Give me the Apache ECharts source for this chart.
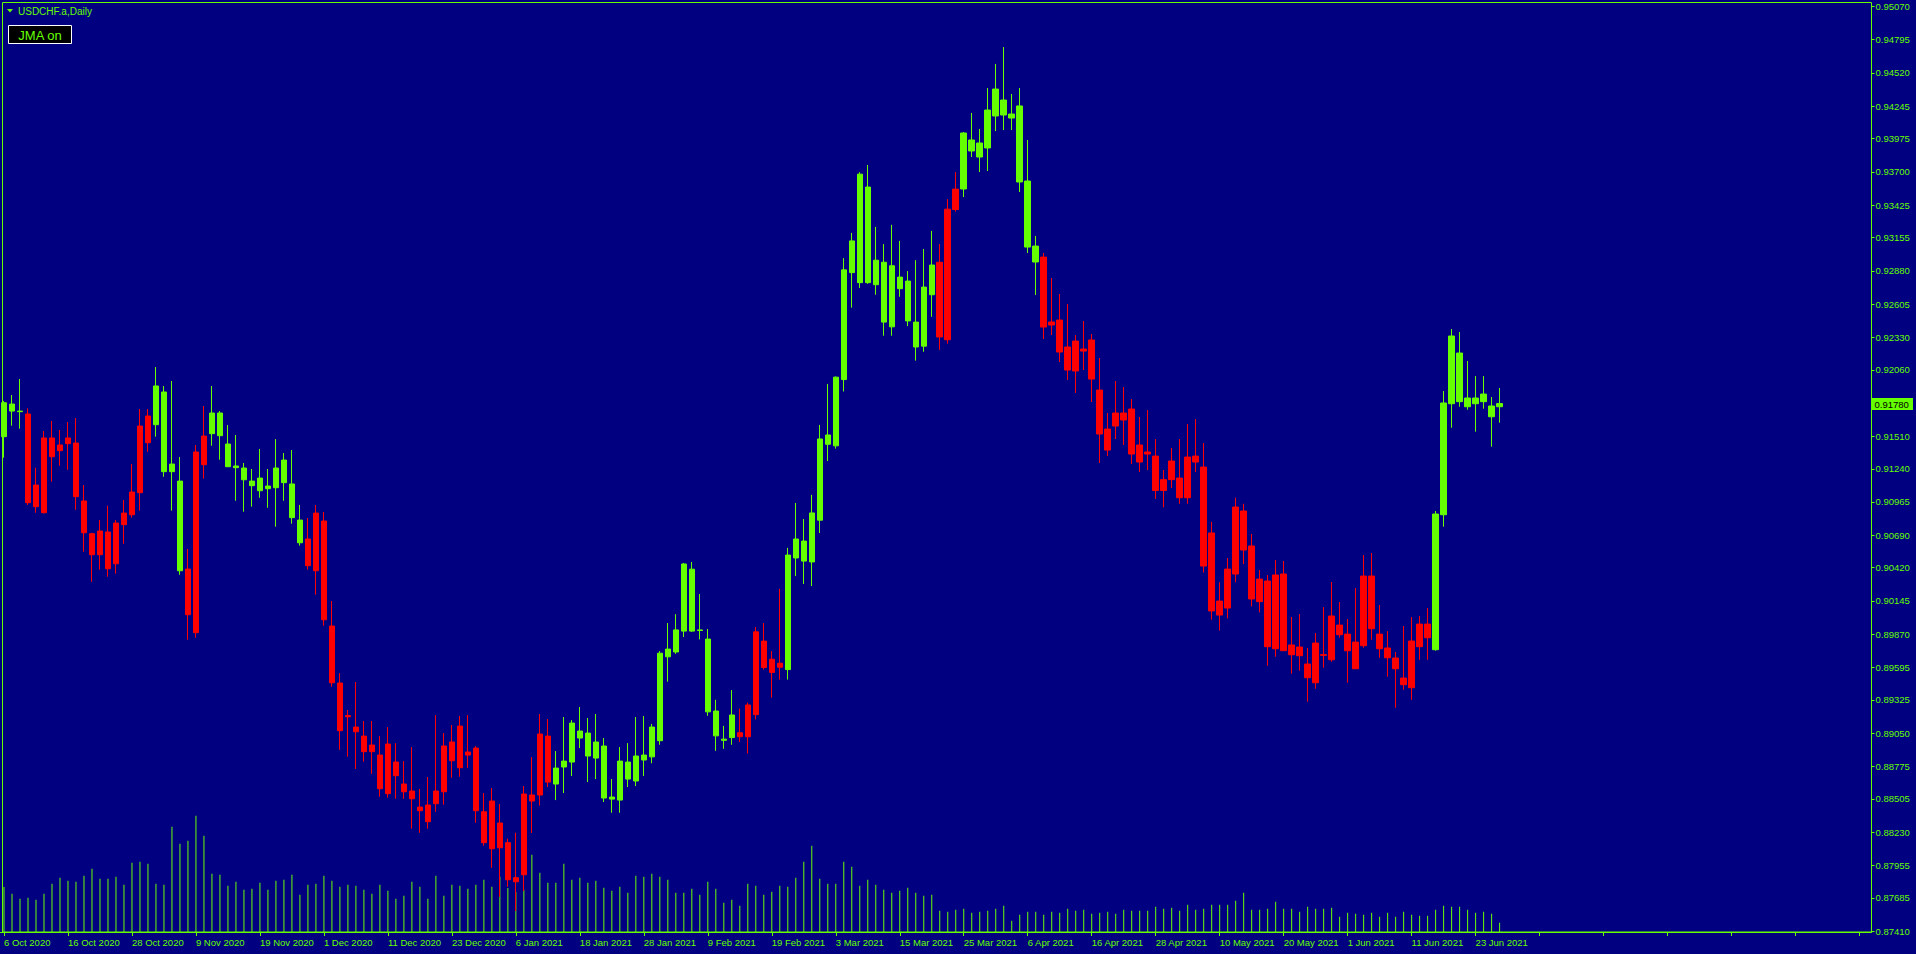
<!DOCTYPE html>
<html><head><meta charset="utf-8">
<script src="https://cdn.jsdelivr.net/npm/echarts@6/dist/echarts.min.js"></script>
<style>html,body{margin:0;padding:0;background:#000080;overflow:hidden}#c{width:1916px;height:954px}</style>
</head><body><div id="c"></div>
<script>
const symbolTitle = 'USDCHF.a,Daily';
const buttonText = 'JMA on';
const monthDays = [
  ['Oct 2020',[6,7,8,9,12,13,14,15,16,19,20,21,22,23,26,27,28,29,30]],
  ['Nov 2020',[2,3,4,5,6,9,10,11,12,13,16,17,18,19,20,23,24,25,26,27,30]],
  ['Dec 2020',[1,2,3,4,7,8,9,10,11,14,15,16,17,18,21,22,23,24,28,29,30,31]],
  ['Jan 2021',[4,5,6,7,8,11,12,13,14,15,18,19,20,21,22,25,26,27,28,29]],
  ['Feb 2021',[1,2,3,4,5,8,9,10,11,12,15,16,17,18,19,22,23,24,25,26]],
  ['Mar 2021',[1,2,3,4,5,8,9,10,11,12,15,16,17,18,19,22,23,24,25,26,29,30,31]],
  ['Apr 2021',[1,2,5,6,7,8,9,12,13,14,15,16,19,20,21,22,23,26,27,28,29,30]],
  ['May 2021',[3,4,5,6,7,10,11,12,13,14,17,18,19,20,21,24,25,26,27,28,31]],
  ['Jun 2021',[1,2,3,4,7,8,9,10,11,14,15,16,17,18,21,22,23,24,25,28]]
];
const open = [
.91506,.91776,.91718,.91694,.90926,.90876,.91495,.91390,.91448,.91453,
.90973,.90702,.90528,.90716,.90453,.90777,.90859,.91042,.91677,.91605,
.91876,.91216,.91138,.90409,.89882,.91274,.91531,.91702,.91445,.91263,
.91246,.91138,.91058,.91097,.91083,.91312,.91114,.90815,.90658,.90395,
.90807,.89937,.89465,.89195,.89100,.89025,.88896,.88868,.88548,.88810,
.88628,.88570,.88437,.88316,.88465,.88564,.88976,.88763,.88893,.88926,
.88398,.88092,.88305,.88142,.87852,.87876,.88537,.88537,.89025,.88628,
.88769,.88810,.89067,.89050,.88843,.88943,.88520,.88495,.88810,.88653,
.88827,.88853,.88987,.89682,.89722,.89895,.90408,.89900,.89829,.89233,
.89000,.89013,.89053,.89020,.89203,.89812,.89553,.89629,.89576,.90501,
.90641,.90468,.90814,.91520,.91430,.91979,.92865,.92782,.93574,.92765,
.92951,.92416,.92828,.92795,.92455,.92256,.92682,.92951,.92309,.93388,
.93558,.93964,.93823,.93898,.94163,.94295,.94179,.94246,.93624,.93085,
.92994,.92431,.92472,.92249,.92050,.92232,.92307,.91892,.91569,.91594,
.91702,.91735,.91296,.91379,.91345,.91060,.91150,.91163,.91000,.91345,
.91254,.90708,.90144,.90086,.90368,.90890,.90600,.90139,.90310,.89749,
.90368,.89699,.89763,.89622,.89467,.89700,.89658,.89945,.89870,.89804,
.89774,.90351,.89870,.89755,.89672,.89506,.89426,.89766,.89953,.89741,
.90859,.91779,.92199,.91826,.91779,.91796,.91760,.91754];
const high = [
.91801,.91851,.91984,.91741,.91249,.91553,.91636,.91561,.91627,.91660,
.91105,.90710,.90815,.90934,.90815,.90981,.91279,.91735,.91735,.92083,
.91926,.91967,.91337,.90575,.91437,.91760,.91926,.91718,.91602,.91520,
.91288,.91238,.91404,.91238,.91486,.91370,.91395,.90940,.90832,.90940,
.90882,.90144,.89547,.89241,.89473,.89150,.89150,.89025,.89100,.88967,
.88818,.88934,.88587,.88686,.89199,.89050,.89117,.89192,.89199,.88943,
.88553,.88595,.88462,.88175,.88225,.88611,.88851,.89208,.89167,.88901,
.89183,.89158,.89266,.89175,.89208,.89009,.88669,.88934,.88967,.89183,
.89191,.89126,.89729,.89962,.90035,.90460,.90468,.90202,.89912,.89326,
.89110,.89406,.89253,.89303,.89929,.89962,.89729,.90245,.90585,.90957,
.90824,.91024,.91603,.91943,.92005,.92985,.93194,.93697,.93757,.93244,
.93101,.93261,.93128,.92878,.92968,.93061,.93211,.93101,.93474,.93697,
.94030,.94188,.94055,.94395,.94594,.94734,.94345,.94395,.93964,.93168,
.93028,.92820,.92688,.92605,.92348,.92464,.92356,.92158,.91702,.91967,
.91917,.91818,.91669,.91726,.91486,.91230,.91412,.91486,.91611,.91652,
.91453,.90800,.90300,.90500,.91000,.90950,.90700,.90400,.90360,.90484,
.90476,.90012,.90036,.89755,.89879,.90094,.90302,.90136,.89995,.90252,
.90525,.90542,.90111,.89895,.89721,.89937,.90011,.90020,.90086,.90890,
.91884,.92398,.92373,.92133,.92008,.92008,.91834,.91909];
const low = [
.91332,.91597,.91572,.90940,.90876,.90870,.91133,.91265,.91232,.90901,
.90553,.90304,.90404,.90346,.90371,.90619,.90835,.90893,.91381,.91506,
.91174,.90893,.90362,.89824,.89840,.91158,.91431,.91315,.91254,.90975,
.90884,.90926,.91000,.90917,.90760,.90975,.90785,.90603,.90404,.90197,
.89940,.89434,.88912,.88854,.88752,.88813,.88713,.88523,.88515,.88506,
.88506,.88258,.88224,.88258,.88398,.88457,.88680,.88689,.88763,.88307,
.88117,.87934,.87694,.87777,.87575,.87741,.88222,.88449,.88603,.88495,
.88553,.88694,.88926,.88644,.88669,.88479,.88390,.88390,.88603,.88611,
.88694,.88800,.88953,.89476,.89706,.89846,.89889,.89826,.89193,.88903,
.88920,.88953,.88977,.88880,.89163,.89576,.89343,.89493,.89493,.90351,
.90285,.90268,.90708,.91304,.91407,.91880,.92575,.92738,.92772,.92682,
.92342,.92342,.92665,.92422,.92136,.92209,.92499,.92226,.92276,.93371,
.93491,.93823,.93699,.93707,.94038,.94046,.94046,.93533,.93028,.92680,
.92315,.92348,.92124,.91975,.91868,.92058,.91793,.91288,.91345,.91486,
.91437,.91279,.91213,.91229,.90990,.90920,.91080,.90950,.90950,.91213,
.90380,.89990,.89900,.90000,.90300,.90450,.90100,.90050,.89608,.89683,
.89733,.89542,.89567,.89310,.89418,.89592,.89641,.89840,.89467,.89583,
.89757,.89824,.89674,.89517,.89260,.89409,.89326,.89658,.89658,.89733,
.90760,.91580,.91754,.91729,.91547,.91738,.91423,.91622];
const close = [
.91787,.91718,.91713,.90959,.91105,.91495,.91340,.91437,.91495,.91009,
.90710,.90528,.90724,.90412,.90790,.90873,.91047,.91594,.91456,.91926,
.91216,.91279,.90395,.90031,.91379,.91511,.91702,.91514,.91257,.91249,
.91149,.91100,.91163,.91075,.91246,.91125,.90835,.90627,.90437,.90873,
.89989,.89467,.89070,.89185,.89061,.88896,.88951,.88589,.88959,.88697,
.88564,.88506,.88407,.88454,.88570,.88943,.88821,.89108,.88868,.88407,
.88142,.88487,.88100,.87835,.87818,.88545,.88487,.89042,.88644,.88760,
.88818,.89133,.89009,.88860,.88976,.88512,.88503,.88818,.88669,.88860,
.88868,.89100,.89712,.89746,.89905,.90451,.89895,.89905,.89226,.89027,
.88990,.89200,.89020,.89283,.89889,.89593,.89662,.89596,.90525,.90658,
.90475,.90874,.91487,.91443,.91999,.92888,.93128,.93681,.92782,.92968,
.92455,.92922,.92732,.92465,.92249,.92745,.92928,.92332,.93391,.93557,
.94022,.93873,.93939,.94212,.94386,.94171,.94146,.93616,.93077,.92953,
.92414,.92456,.92207,.92058,.92298,.92215,.91983,.91528,.91395,.91702,
.91644,.91362,.91437,.91362,.91060,.91150,.91304,.91000,.91337,.91296,
.90434,.90062,.90028,.90409,.90923,.90567,.90161,.90326,.89766,.90360,
.89733,.89780,.89691,.89509,.89796,.89694,.90020,.89865,.89732,.89583,
.90351,.89915,.89749,.89674,.89583,.89451,.89813,.89953,.89840,.90865,
.91785,.92340,.91796,.91754,.91826,.91859,.91671,.91780];
const volume = [
45000,38300,33300,34300,32300,38300,48300,54300,51300,50300,
56300,63300,53300,53300,55300,47300,69300,70300,68300,48300,
47300,105300,88300,91300,116300,96300,58300,57300,46300,50300,
42300,43300,49300,42300,51300,52300,57300,37300,47300,48300,
56300,51300,45300,47300,46300,42300,38300,47300,41300,33300,
36300,50300,45300,33300,56300,36300,47300,46300,43300,47300,
52300,45300,55300,44000,40000,42300,77300,59300,49300,49300,
68300,52300,54300,49300,51300,44300,41300,45300,39300,56300,
55300,58300,55300,52300,39300,39300,43300,37300,50300,43300,
29300,32300,26300,48300,46300,37300,40300,46300,45300,54300,
70300,86300,53300,48300,48300,70300,65300,46300,52300,47300,
42300,39300,41300,44300,39300,36300,37300,21300,20300,22300,
23300,19300,20300,21300,23300,26300,11300,17300,20300,20300,
17300,20300,19300,23300,21300,22300,18300,19300,20300,18300,
22300,21300,21300,21300,25300,23300,24300,21300,27300,22300,
23300,27300,27300,27300,31300,39300,22300,22300,23300,30300,
23300,23300,20300,25300,23300,23300,24300,15300,19300,18300,
17300,19300,15300,19300,15300,20300,17300,16300,16300,22300,
26300,25300,25300,22300,19300,20300,18300,9300];
// JMA trend state (u = up colour, d = down colour), as runs
const trendRuns = [['u',3],['d',16],['u',4],['d',3],['u',12],['d',31],['u',23],['d',6],['u',19],['d',3],['u',10],['d',49],['u',9]];
const priceTicks = ['0.95070','0.94795','0.94520','0.94245','0.93975','0.93700','0.93425','0.93155','0.92880','0.92605','0.92330','0.92060','0.91510','0.91240','0.90965','0.90690','0.90420','0.90145','0.89870','0.89595','0.89325','0.89050','0.88775','0.88505','0.88230','0.87955','0.87685','0.87410'];

const GREEN = '#66ff00', RED = '#ff0000', BG = '#000080';
const FONT = '"Liberation Sans", Arial, sans-serif';

const dates = [];
monthDays.forEach(([m, ds]) => ds.forEach(d => dates.push(d + ' ' + m)));
const trend = [];
trendRuns.forEach(([t, n]) => { for (let k = 0; k < n; k++) trend.push(t); });

const candleData = dates.map((d, i) => {
  const c = trend[i] === 'u' ? GREEN : RED;
  return { value: [open[i], close[i], low[i], high[i]],
    itemStyle: { color: c, color0: c, borderColor: c, borderColor0: c, borderColorDoji: c } };
});
const tickVals = priceTicks.map(Number);
const last = close[close.length - 1];

const chart = echarts.init(document.getElementById('c'), null, { renderer: 'svg' });
const staticGraphics = [
  { type: 'rect', silent: true, z: 0, shape: { x: 2.5, y: 2.5, width: 1869, height: 929.5 },
    style: { fill: 'none', stroke: GREEN, lineWidth: 1 } },
  { type: 'polygon', silent: true, shape: { points: [[7, 9], [13, 9], [10, 12.5]] }, style: { fill: GREEN } },
  { type: 'text', silent: true, x: 18, y: 11, style: { text: symbolTitle, fill: GREEN, fontSize: 10, fontFamily: FONT, verticalAlign: 'middle' } },
  { type: 'rect', silent: true, shape: { x: 8.5, y: 25.5, width: 63, height: 18 },
    style: { fill: '#000000', stroke: '#ffffff', lineWidth: 1 } },
  { type: 'text', silent: true, x: 40, y: 35, style: { text: buttonText, fill: GREEN, fontSize: 13, fontFamily: FONT, align: 'center', verticalAlign: 'middle' } }
];
chart.setOption({
  backgroundColor: BG,
  animation: false,
  grid: { left: -0.5, right: 44.5, top: 6.5, bottom: 22, containLabel: false },
  xAxis: {
    type: 'category', data: dates, max: 233, boundaryGap: true,
    axisLine: { show: true, lineStyle: { color: GREEN, width: 1 } },
    axisTick: { show: true, interval: 7, alignWithLabel: true, length: 4, lineStyle: { color: GREEN } },
    axisLabel: { interval: 7, align: 'left', color: GREEN, fontSize: 9.5, fontFamily: FONT, margin: 5,
      formatter: v => v || '' },
    splitLine: { show: false }
  },
  yAxis: [{
    type: 'value', position: 'right', min: 0.87402, max: 0.95070,
    axisLine: { show: true, lineStyle: { color: GREEN } },
    axisTick: { show: true, length: 3, customValues: tickVals, lineStyle: { color: GREEN } },
    axisLabel: { customValues: tickVals, color: GREEN, fontSize: 9.5, fontFamily: FONT, margin: 4,
      formatter: v => v.toFixed(5) },
    splitLine: { show: false }
  }, {
    type: 'value', min: 0, max: 925500, show: false
  }],
  series: [{
    type: 'bar', yAxisIndex: 1, data: volume, barWidth: 1, silent: true,
    itemStyle: { color: GREEN }, z: 1
  }, {
    type: 'candlestick', data: candleData, barWidth: 6, z: 2,
    itemStyle: { borderWidth: 1 }
  }],
  graphic: staticGraphics
});

// last-price marker on the price axis, positioned through the chart's own y scale
const py = chart.convertToPixel({ yAxisIndex: 0 }, last);
chart.setOption({
  graphic: staticGraphics.concat([
    { type: 'rect', silent: true, z: 10, shape: { x: 1872, y: Math.round(py) - 6, width: 41, height: 12 },
      style: { fill: GREEN } },
    { type: 'text', silent: true, z: 11, x: 1874.5, y: Math.round(py), style: { text: last.toFixed(5), fill: '#000000', fontSize: 9.5, fontFamily: FONT, verticalAlign: 'middle' } }
  ])
});
</script>
</body></html>
